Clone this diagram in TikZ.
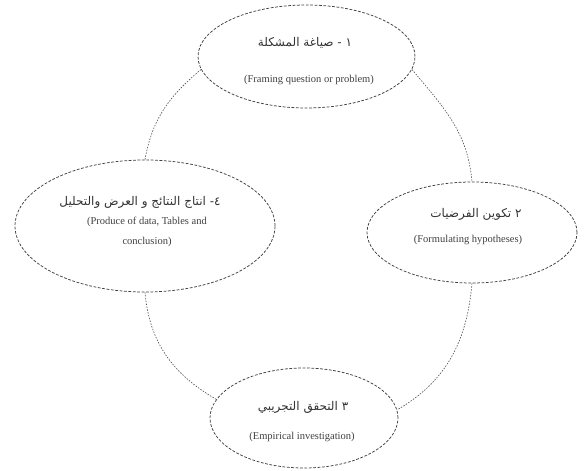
\documentclass[tikz,border=0pt]{standalone}
\usepackage{fontspec}
\setmainfont{Liberation Serif}
\newfontfamily\arabicfont[Script=Arabic]{DejaVu Sans}
\TeXXeTstate=1
\usetikzlibrary{shapes.geometric}
\tikzset{
  stage/.style={ellipse, draw=black!75, line width=0.75pt, dash pattern=on 2.8pt off 1.6pt, inner sep=0pt},
  link/.style={draw=black!70, line width=0.6pt, dash pattern=on 1.5pt off 1.4pt},
  ar/.style={font=\arabicfont\fontsize{12}{14}\selectfont, text=black!80, inner sep=0pt},
  en/.style={font=\fontsize{10.5}{20}\selectfont, text=black!75, inner sep=0pt, align=center}
}
\begin{document}
\begin{tikzpicture}[x=1pt,y=1pt]
\useasboundingbox (0,0) rectangle (584,471);
% ellipses
\node[stage, minimum width=217pt, minimum height=103pt] (E1) at (306.5,414.5) {};
\node[stage, minimum width=210pt, minimum height=101pt] (E2) at (472,238.5) {};
\node[stage, minimum width=188pt, minimum height=100pt] (E3) at (304,53) {};
\node[stage, minimum width=260pt, minimum height=132pt] (E4) at (145,245) {};
% texts
\node[ar] (A1) at (305,428) {\beginR ١ - صياغة المشكلة\endR};
\node[en] (B1) at (309,391) {(Framing question or problem)};
\node[ar] (A2) at (476,257) {\beginR ٢ تكوين الفرضيات\endR};
\node[en] (B2) at (468,231) {(Formulating hypotheses)};
\node[ar] (A3) at (303,64) {\beginR ٣ التحقق التجريبي\endR};
\node[en] (B3) at (302,34) {(Empirical investigation)};
\node[ar] (A4) at (140,269) {\beginR ٤- انتاج النتائج و العرض والتحليل\endR};
\node[en] (B4) at (147,239) {(Produce of data, Tables and\\conclusion)};
% connectors
\draw[link] (E1.-7) to[out=-50,in=95] (E2.north);
\draw[link] (E2.south) to[out=-95,in=30] (E3.5);
\draw[link] (E3.168) to[out=150,in=-85] (E4.south);
\draw[link] (E4.north) to[out=80,in=-140] (E1.187);
\end{tikzpicture}
\end{document}
